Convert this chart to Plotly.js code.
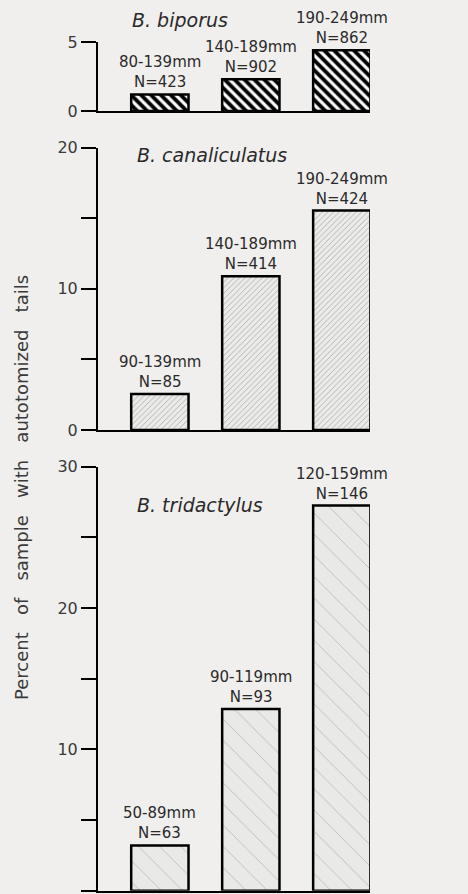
<!DOCTYPE html>
<html>
<head>
<meta charset="utf-8">
<script src="https://cdn.plot.ly/plotly-3.0.1.min.js"></script>
<style>html,body{margin:0;padding:0;background:#f0efed;}#chart{width:468px;height:894px;}</style>
</head>
<body>
<div id="chart"></div>
<script>
// ---- data ----
const species = ['B. biporus', 'B. canaliculatus', 'B. tridactylus'];
const positions = [0, 1, 2];

const biporusSizes = ['80-139mm', '140-189mm', '190-249mm'];
const biporusN = [423, 902, 862];
const biporusPct = [1.2, 2.3, 4.4];

const canaliculatusSizes = ['90-139mm', '140-189mm', '190-249mm'];
const canaliculatusN = [85, 414, 424];
const canaliculatusPct = [2.55, 10.9, 15.55];

const tridactylusSizes = ['50-89mm', '90-119mm', '120-159mm'];
const tridactylusN = [63, 93, 146];
const tridactylusPct = [3.2, 12.85, 27.25];

const yTitleWords = ['Percent', 'of', 'sample', 'with', 'autotomized', 'tails'];

// ---- styling ----
const H = 894, L = 98, PW = 272;
const frac = px => 1 - px / H;
const px2x = px => (px - L) / PW;
const font = 'DejaVu Sans, sans-serif';
const txtColor = '#2a2a2a';

const panels = [
  {sizes: biporusSizes, n: biporusN, pct: biporusPct, ax: '', range: [0, 5], dtick: 5, minor: null,
   dom: [frac(111), frac(42)], title: [180, 20],
   pattern: {shape: '\\', fgcolor: '#000', bgcolor: '#ffffff', size: 7, solidity: 0.55}},
  {sizes: canaliculatusSizes, n: canaliculatusN, pct: canaliculatusPct, ax: '2', range: [0, 20], dtick: 10, minor: 5,
   dom: [frac(430), frac(147.7)], title: [212, 155],
   pattern: {shape: '/', fgcolor: '#a2a2a2', bgcolor: '#ebebe9', size: 4, solidity: 0.18}},
  {sizes: tridactylusSizes, n: tridactylusN, pct: tridactylusPct, ax: '3', range: [0, 30], dtick: 10, minor: 5,
   dom: [frac(890.7), frac(466.7)], title: [200, 505],
   pattern: {shape: '\\', fgcolor: '#bdbdbd', bgcolor: '#e9e9e7', size: 15, solidity: 0.06}}
];

const traces = [];
const annotations = [];
const layout = {
  width: 468, height: 894,
  margin: {l: L, r: 468 - L - PW, t: 0, b: 0},
  paper_bgcolor: '#f0efed', plot_bgcolor: '#f0efed',
  showlegend: false,
  font: {family: font, color: txtColor}
};

panels.forEach((p, i) => {
  traces.push({
    type: 'bar', x: positions, y: p.pct, width: 0.63,
    xaxis: 'x' + p.ax, yaxis: 'y' + p.ax,
    marker: {color: p.pattern.bgcolor, line: {color: '#000', width: 2.5}, pattern: p.pattern},
    hoverinfo: 'skip'
  });
  p.sizes.forEach((s, j) => {
    annotations.push({
      xref: 'x' + p.ax, yref: 'y' + p.ax, x: positions[j], y: p.pct[j],
      text: s + '<br>N=' + p.n[j], showarrow: false, yanchor: 'bottom', yshift: 1,
      font: {size: 15, family: font, color: txtColor}, align: 'center'
    });
  });
  annotations.push({
    xref: 'paper', yref: 'paper', x: px2x(p.title[0]), y: frac(p.title[1]),
    xanchor: 'center', yanchor: 'middle',
    text: '<i>' + species[i] + '</i>', showarrow: false,
    font: {size: 19, family: font, color: txtColor}
  });
  layout['xaxis' + p.ax] = {
    anchor: 'y' + p.ax, domain: [0, 1], range: [-0.68, 2.31],
    showline: true, linecolor: '#000', linewidth: 2, showticklabels: false,
    ticks: '', showgrid: false, zeroline: false, fixedrange: true
  };
  const ya = {
    anchor: 'x' + p.ax, domain: p.dom, range: p.range,
    showline: true, linecolor: '#000', linewidth: 2,
    ticks: 'outside', ticklen: 15, tickwidth: 2, tickcolor: '#000',
    tickmode: 'linear', tick0: 0, dtick: p.dtick,
    tickfont: {size: 16, family: font, color: '#3a3a3a'},
    showgrid: false, zeroline: false, fixedrange: true
  };
  if (p.minor) ya.minor = {dtick: p.minor, tick0: 0, ticks: 'outside', ticklen: 15, tickwidth: 2, tickcolor: '#000', showgrid: false};
  layout['yaxis' + p.ax] = ya;
});

annotations.push({
  xref: 'paper', yref: 'paper', x: px2x(21), y: frac(488),
  text: yTitleWords.join('&nbsp;&nbsp;&nbsp;'), textangle: -90, showarrow: false,
  xanchor: 'center', yanchor: 'middle',
  font: {size: 18, family: font, color: '#3a3a3a'}
});
layout.annotations = annotations;

Plotly.newPlot('chart', traces, layout, {displayModeBar: false, staticPlot: true});
</script>
</body>
</html>
